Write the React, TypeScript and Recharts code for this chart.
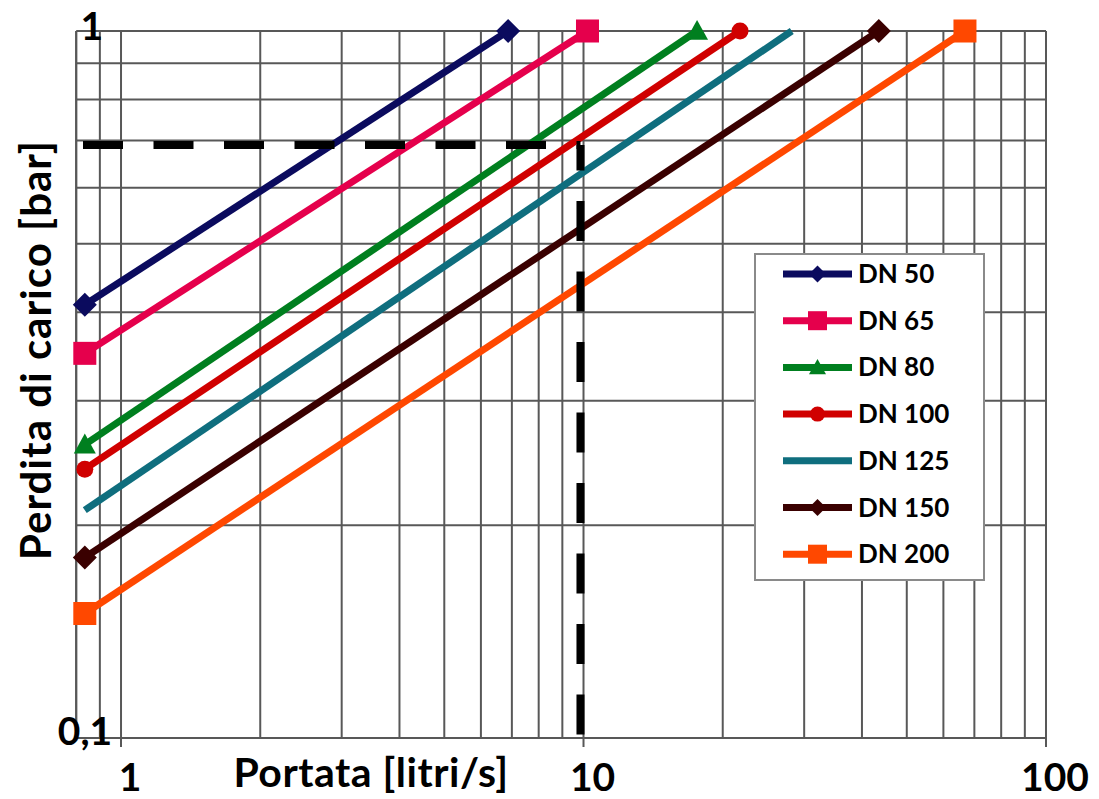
import React from 'react';
import { LineChart, Line, XAxis, YAxis, CartesianGrid, Legend } from 'recharts';

const SERIES_NAMES = ['DN 50', 'DN 65', 'DN 80', 'DN 100', 'DN 125', 'DN 150', 'DN 200'];
const START_X = [0.835, 0.835, 0.835, 0.835, 0.835, 0.835, 0.835];
const START_Y = [0.41, 0.35, 0.26, 0.24, 0.21, 0.18, 0.15];
const END_X = [6.87, 10.2, 17.6, 21.8, 28.2, 43.5, 66.8];
const END_Y = [1, 1, 1, 1, 1, 1, 1];
const COLORS = ['#0b0b5e', '#e5004c', '#007f1f', '#d00000', '#0f6e7e', '#3a0000', '#ff4800'];
const MARKERS = ['diamond', 'square', 'triangle', 'circle', 'none', 'diamond', 'square'];

const X_GRID = [0.9, 1, 2, 3, 4, 5, 6, 7, 8, 9, 10, 20, 30, 40, 50, 60, 70, 80, 90, 100];
const X_LABELS = [1, 10, 100];
const Y_GRID = [0.1, 0.2, 0.3, 0.4, 0.5, 0.6, 0.7, 0.8, 0.9, 1];
const Y_LABELS = [0.1, 1];

const DASH_H_X = [0.8, 9.85];
const DASH_H_Y = [0.69, 0.69];
const DASH_V_X = [9.85, 9.85];
const DASH_V_Y = [0.69, 0.1];

const X_TITLE = 'Portata [litri/s]';
const Y_TITLE = 'Perdita di carico [bar]';

const FONT = 'Lato, "Open Sans", sans-serif';
const GRID = '#585858';

const seriesData = SERIES_NAMES.map((name, i) => ({
  name,
  color: COLORS[i],
  marker: MARKERS[i],
  data: [
    { x: START_X[i], y: START_Y[i] },
    { x: END_X[i], y: END_Y[i] },
  ],
}));

const dashH = DASH_H_X.map((x, i) => ({ x, y: DASH_H_Y[i] }));
const dashV = DASH_V_X.map((x, i) => ({ x, y: DASH_V_Y[i] }));

function Marker({ cx, cy, shape, color, size }: any) {
  const h = size / 2;
  if (shape === 'diamond')
    return <polygon points={`${cx},${cy - h} ${cx + h},${cy} ${cx},${cy + h} ${cx - h},${cy}`} fill={color} />;
  if (shape === 'square') return <rect x={cx - h} y={cy - h} width={size} height={size} fill={color} />;
  if (shape === 'triangle')
    return <polygon points={`${cx},${cy - h} ${cx + h},${cy + h * 0.8} ${cx - h},${cy + h * 0.8}`} fill={color} />;
  if (shape === 'circle') return <circle cx={cx} cy={cy} r={h} fill={color} />;
  return null;
}

const MARKER_SIZE: Record<string, number> = { diamond: 24, square: 23, triangle: 22, circle: 17 };
const LEGEND_MARKER_SIZE: Record<string, number> = { diamond: 17, square: 19, triangle: 17, circle: 15 };

const XTick = (props: any) => {
  const { x, y, payload } = props;
  if (!X_LABELS.includes(payload.value)) return <g />;
  return (
    <g>
      <line x1={x} x2={x} y1={y} y2={y + 9} stroke={GRID} strokeWidth={2} />
      <text x={x + 9} y={y + 53} textAnchor="middle" fontFamily={FONT} fontWeight={700} fontSize={39} fill="#000">
        {String(payload.value)}
      </text>
    </g>
  );
};

const YTick = (props: any) => {
  const { x, y, payload } = props;
  if (!Y_LABELS.includes(payload.value)) return <g />;
  const isTop = payload.value === 1;
  return (
    <text
      x={x + (isTop ? 27 : 36)}
      y={y + (isTop ? 9 : 7)}
      textAnchor="end"
      fontFamily={FONT}
      fontWeight={700}
      fontSize={39}
      fill="#000"
    >
      {String(payload.value).replace('.', ',')}
    </text>
  );
};

const LegendContent = () => (
  <svg width={231} height={328} style={{ display: 'block' }}>
    <rect x={1} y={1} width={229} height={326} fill="#fff" stroke="#8a8a8a" strokeWidth={2} />
    {seriesData.map((s, i) => {
      const cy = 21 + i * 46.7;
      return (
        <g key={s.name}>
          <line x1={29} x2={98} y1={cy} y2={cy} stroke={s.color} strokeWidth={7} />
          <Marker cx={63.5} cy={cy} shape={s.marker} color={s.color} size={LEGEND_MARKER_SIZE[s.marker] || 0} />
          <text x={104} y={cy + 9} fontFamily={FONT} fontWeight={700} fontSize={26} fill="#000">
            {s.name}
          </text>
        </g>
      );
    })}
  </svg>
);

export default function App() {
  return (
    <div style={{ position: 'fixed', left: 0, top: 0, width: 1099, height: 799, background: '#fff' }}>
      <LineChart width={1099} height={799} margin={{ top: 31, right: 53, bottom: 0, left: 0.2 }}>
        <CartesianGrid stroke={GRID} strokeWidth={2} strokeOpacity={1} />
        <XAxis
          dataKey="x"
          type="number"
          scale="log"
          domain={[0.8, 100]}
          ticks={X_GRID}
          interval={0}
          height={61}
          tickSize={0}
          tickMargin={0}
          tickLine={false}
          axisLine={{ stroke: GRID, strokeWidth: 2 }}
          tick={<XTick />}
          label={{ value: X_TITLE, position: 'insideBottomLeft', content: () => (
            <text x={371} y={787} textAnchor="middle" fontFamily={FONT} fontWeight={700} fontSize={41} letterSpacing={0.5} fill="#000">
              {X_TITLE}
            </text>
          ) }}
        />
        <YAxis
          dataKey="y"
          type="number"
          scale="log"
          domain={[0.1, 1]}
          ticks={Y_GRID}
          interval={0}
          width={76}
          tickSize={0}
          tickMargin={0}
          tickLine={false}
          axisLine={{ stroke: GRID, strokeWidth: 2 }}
          tick={<YTick />}
          label={{ value: Y_TITLE, position: 'insideLeft', content: () => (
            <text
              x={35}
              y={350}
              transform="rotate(-90 35 350)"
              textAnchor="middle"
              dominantBaseline="central"
              fontFamily={FONT}
              fontWeight={700}
              fontSize={42}
              letterSpacing={1}
              fill="#000"
            >
              {Y_TITLE}
            </text>
          ) }}
        />
        {seriesData.map((s) => (
          <Line
            key={s.name}
            data={s.data}
            dataKey="y"
            name={s.name}
            type="linear"
            stroke={s.color}
            strokeWidth={7}
            isAnimationActive={false}
            activeDot={false}
            dot={
              s.marker === 'none'
                ? false
                : (p: any) => (
                    <Marker
                      key={`${s.name}-${p.index}`}
                      cx={p.cx}
                      cy={p.cy}
                      shape={s.marker}
                      color={s.color}
                      size={MARKER_SIZE[s.marker]}
                    />
                  )
            }
          />
        ))}
        <Line
          data={dashH}
          dataKey="y"
          name="dashH"
          legendType="none"
          type="linear"
          stroke="#000"
          strokeWidth={8}
          strokeDasharray="40 30.5"
          strokeDashoffset={63.7}
          dot={false}
          activeDot={false}
          isAnimationActive={false}
        />
        <Line
          data={dashV}
          dataKey="y"
          name="dashV"
          legendType="none"
          type="linear"
          stroke="#000"
          strokeWidth={8}
          strokeDasharray="40 30.5"
          strokeDashoffset={14.5}
          dot={false}
          activeDot={false}
          isAnimationActive={false}
        />
        <Legend
          layout="vertical"
          align="center"
          verticalAlign="middle"
          content={<LegendContent />}
          wrapperStyle={{ position: 'absolute', left: 754, top: 253, width: 231, height: 328 }}
        />
      </LineChart>
    </div>
  );
}
